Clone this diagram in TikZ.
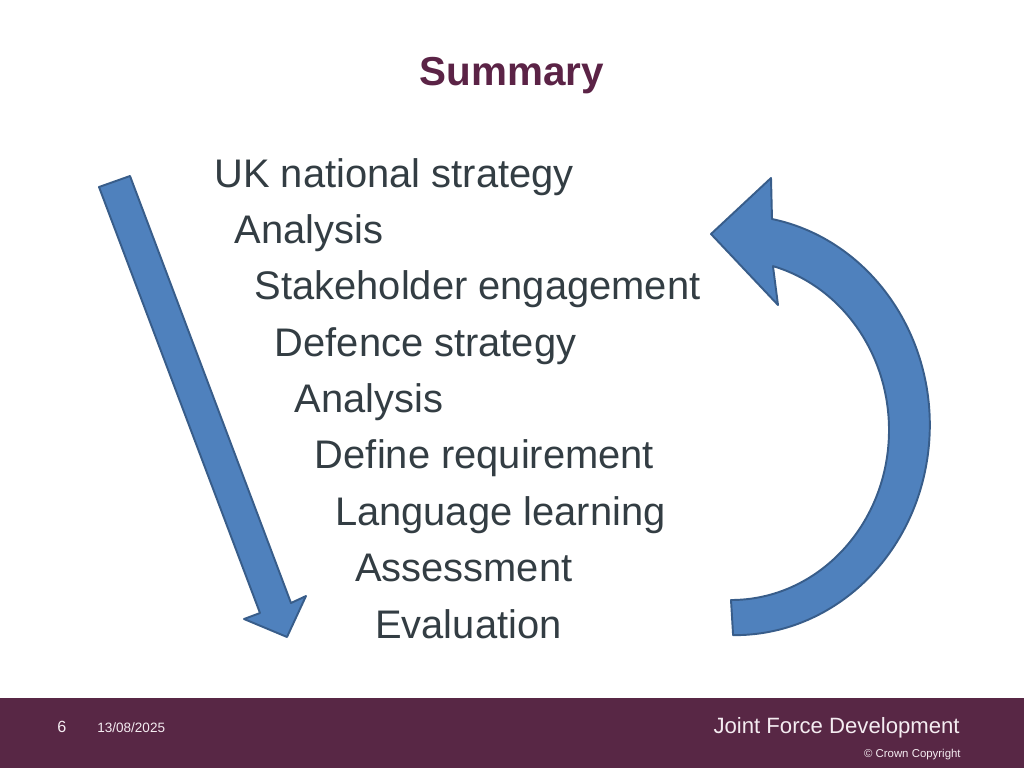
\documentclass[tikz,border=0pt]{standalone}
\usepackage{fontspec}
\setmainfont{Liberation Sans}
\usepackage{xcolor}
\definecolor{SlidePlum}{HTML}{582745}
\definecolor{TitlePlum}{HTML}{5B2346}
\definecolor{SlideInk}{HTML}{333D43}
\definecolor{ArrowBlue}{HTML}{4F81BD}
\definecolor{ArrowEdge}{HTML}{385D8A}
\definecolor{FootText}{HTML}{F4ECF1}
\usepackage{tikz}
\usetikzlibrary{positioning}

\begin{document}
\begin{tikzpicture}[
  x=0.02cm, y=-0.02cm,
  node distance=9.4pt,
  title/.style={font=\fontsize{23}{27}\selectfont\bfseries, text=TitlePlum,
                inner sep=0pt, anchor=base},
  stage/.style={font=\fontsize{22.7}{27}\selectfont, text=SlideInk,
                inner sep=0pt, outer sep=0pt, text height=17pt, text depth=5.7pt},
  below step/.style={below=of #1.south west, anchor=north west, xshift=0.402cm},
  foot/.style={text=FootText, inner sep=0pt},
  block arrow/.style={fill=ArrowBlue, draw=ArrowEdge, line width=1.1pt,
                      line join=round},
]
\useasboundingbox (0,0) rectangle (1024,768);

\node[title] (title) at (512,85) {Summary};

% the list, each line stepped in
\node[stage, anchor=base west] (uk) at (214.5,187) {UK national strategy};
\node[stage, below step=uk] (ana1) {Analysis};
\node[stage, below step=ana1] (stake) {Stakeholder engagement};
\node[stage, below step=stake] (defence) {Defence strategy};
\node[stage, below step=defence] (ana2) {Analysis};
\node[stage, below step=ana2] (require) {Define requirement};
\node[stage, below step=require] (learn) {Language learning};
\node[stage, below step=learn] (assess) {Assessment};
\node[stage, below step=assess] (eval) {Evaluation};

% downward arrow
\draw[block arrow] (99,187) -- (130,176) -- (291,603) -- (306,596)
  -- (287,637) -- (244,619) -- (260,613) -- cycle;

% return arrow
\draw[block arrow] (711,234) -- (771,178) -- (772,219)
  arc[start angle=-79, end angle=90.5, x radius=195, y radius=210]
  -- (731,600)
  arc[start angle=90, end angle=-74.6, x radius=158, y radius=170]
  -- (778,305) -- cycle;

% footer
\fill[SlidePlum] (0,698) rectangle (1024,768);
\node[foot, anchor=base west, font=\fontsize{9.2}{11}\selectfont] (page) at (57,732) {6};
\node[foot, anchor=base west, font=\fontsize{7.7}{9}\selectfont] (date) at (97,732) {13/08/2025};
\node[foot, anchor=base east, font=\fontsize{12.6}{15}\selectfont] (unit) at (960,733) {Joint Force Development};
\node[foot, anchor=base east, font=\fontsize{6.5}{8}\selectfont] (crown) at (961,757) {© Crown Copyright};
\end{tikzpicture}
\end{document}
